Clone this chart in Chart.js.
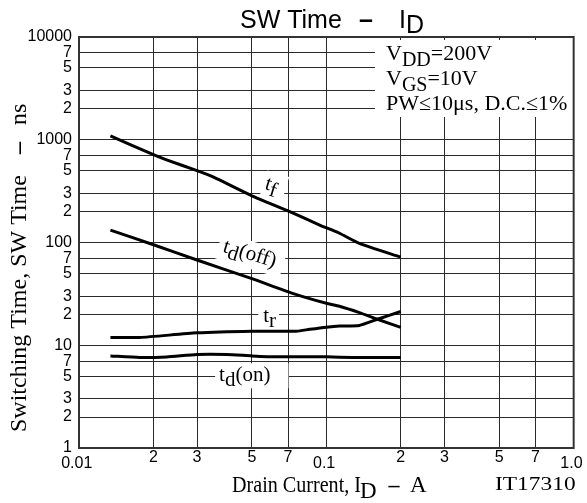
<!DOCTYPE html>
<html>
<head>
<meta charset="utf-8">
<script src="https://cdn.jsdelivr.net/npm/chart.js@4.4.1/dist/chart.umd.min.js"></script>
<style>
html,body{margin:0;padding:0;background:#ffffff;}
#box{position:relative;width:587px;height:503px;}
</style>
</head>
<body>
<div id="box"><canvas id="chart" width="587" height="503"></canvas></div>
<script>
// ---------------- data ----------------
const xTickValues = [0.01, 0.02, 0.03, 0.05, 0.07, 0.1, 0.2, 0.3, 0.5, 0.7, 1];
const xTickLabels = ['0.01', '2', '3', '5', '7', '0.1', '2', '3', '5', '7', '1.0'];
const yTickValues = [1, 2, 3, 5, 7, 10, 20, 30, 50, 70, 100, 200, 300, 500, 700, 1000, 2000, 3000, 5000, 7000, 10000];
const yTickLabels = ['1', '2', '3', '5', '7', '10', '2', '3', '5', '7', '100', '2', '3', '5', '7', '1000', '2', '3', '5', '7', '10000'];

// Drain current (A) and switching times (ns) for each curve
const tfCurrent   = [0.0134, 0.02, 0.0226, 0.03, 0.035, 0.05, 0.07, 0.094, 0.113, 0.136, 0.2];
const tfTime      = [1090, 715, 637, 500, 432, 285, 203, 148, 123, 98, 72];
const tdOffCurrent = [0.0134, 0.02, 0.03, 0.05, 0.073, 0.1, 0.113, 0.136, 0.161, 0.2];
const tdOffTime    = [132, 95, 67.5, 44.5, 32, 25.6, 24, 20.8, 17.9, 14.9];
const trCurrent   = [0.0134, 0.0176, 0.03, 0.05, 0.0757, 0.0857, 0.1, 0.113, 0.136, 0.161, 0.2];
const trTime      = [11.9, 11.9, 13.2, 13.7, 13.7, 14.3, 15.0, 15.4, 15.6, 17.9, 21.3];
const tdOnCurrent = [0.0134, 0.0176, 0.0226, 0.03, 0.0395, 0.05, 0.063, 0.1, 0.128, 0.2];
const tdOnTime    = [7.88, 7.6, 7.7, 8.13, 8.13, 7.88, 7.71, 7.71, 7.6, 7.6];

// --------------- styling helpers ---------------
const SERIF = '"Liberation Serif","Times New Roman",serif';
const SANS = '"Liberation Sans",Arial,sans-serif';

function isDecade(v) { const l = Math.log10(v); return Math.abs(l - Math.round(l)) < 1e-6; }
function toPoints(xs, ys) { return xs.map((x, i) => ({ x: x, y: ys[i] })); }

function piecesWidth(ctx, pieces) {
  let w = 0;
  for (const p of pieces) { ctx.font = p.font; w += ctx.measureText(p.t).width + (p.gap || 0); }
  return w;
}
function drawPieces(ctx, pieces, x, y) {
  let cx = x;
  for (const p of pieces) {
    ctx.font = p.font;
    const w = ctx.measureText(p.t).width;
    ctx.fillText(p.t, cx, y + (p.dy || 0));
    cx += w + (p.gap || 0);
  }
}

const LBL = '21px ' + SERIF;
const curveLabels = [
  { pieces: [{ t: 't', font: LBL }, { t: 'f', font: LBL, dy: 5 }], at: [0.0601, 360], rot: 17, pad: [2, 8, 13, 14] },
  { pieces: [{ t: 't', font: LBL }, { t: 'd', font: LBL, dy: 5 }, { t: '(off)', font: LBL }], at: [0.049, 77], rot: 17, pad: [5, 8, 13, 14] },
  { pieces: [{ t: 't', font: LBL }, { t: 'r', font: LBL, dy: 5 }], at: [0.059, 19.2], rot: 0, pad: [5, 3, 12, 13] },
  { pieces: [{ t: 't', font: LBL }, { t: 'd', font: LBL, dy: 5 }, { t: '(on)', font: LBL }], at: [0.0468, 5.1], rot: 0, pad: [4, 18, 12, 13] }
];

const ANN = '22px ' + SERIF, ANNS = '20px ' + SERIF;
const annotationLines = [
  { pieces: [{ t: 'V', font: ANN }, { t: 'DD', font: ANNS, dy: 6 }, { t: '=200V', font: ANN }], y: 60 },
  { pieces: [{ t: 'V', font: ANN }, { t: 'GS', font: ANNS, dy: 6 }, { t: '=10V', font: ANN }], y: 85 },
  { pieces: [{ t: 'PW\u226410\u03bcs, D.C.\u22641%', font: ANN }], y: 110 }
];

const decorPlugin = {
  id: 'decor',
  beforeDatasetsDraw(chart) {
    const ctx = chart.ctx, xs = chart.scales.x, ys = chart.scales.y, ca = chart.chartArea;
    ctx.save();
    ctx.fillStyle = '#ffffff';
    ctx.textBaseline = 'middle';
    for (const L of curveLabels) {
      const px = xs.getPixelForValue(L.at[0]), py = ys.getPixelForValue(L.at[1]);
      const w = piecesWidth(ctx, L.pieces);
      ctx.save();
      ctx.translate(px, py);
      ctx.rotate(L.rot * Math.PI / 180);
      ctx.fillRect(-w / 2 - L.pad[0], -L.pad[2], w + L.pad[0] + L.pad[1], L.pad[2] + L.pad[3]);
      ctx.restore();
    }
    ctx.fillRect(375, ca.top + 3, ca.right - 375, 117 - ca.top - 3);
    ctx.restore();
  },
  afterDatasetsDraw(chart) {
    const ctx = chart.ctx, xs = chart.scales.x, ys = chart.scales.y, ca = chart.chartArea;
    ctx.save();
    ctx.strokeStyle = '#333333';
    ctx.lineWidth = 2;
    ctx.strokeRect(ca.left, ca.top, ca.right - ca.left, ca.bottom - ca.top);
    ctx.fillStyle = '#000000';
    ctx.textBaseline = 'middle';
    ctx.textAlign = 'left';
    for (const L of curveLabels) {
      const px = xs.getPixelForValue(L.at[0]), py = ys.getPixelForValue(L.at[1]);
      const w = piecesWidth(ctx, L.pieces);
      ctx.save();
      ctx.translate(px, py);
      ctx.rotate(L.rot * Math.PI / 180);
      drawPieces(ctx, L.pieces, -w / 2, 0);
      ctx.restore();
    }
    ctx.textBaseline = 'alphabetic';
    for (const A of annotationLines) drawPieces(ctx, A.pieces, 386, A.y);
    ctx.restore();
  },
  afterDraw(chart) {
    const ctx = chart.ctx;
    ctx.save();
    ctx.fillStyle = '#000000';
    ctx.textBaseline = 'alphabetic';
    ctx.textAlign = 'left';
    // chart title
    ctx.font = '25px ' + SANS;
    ctx.fillText('SW Time', 240, 28);
    ctx.font = 'bold 25px ' + SANS;
    ctx.textAlign = 'center';
    ctx.fillText('\u2013', 366, 28);
    ctx.textAlign = 'left';
    ctx.font = '25px ' + SANS;
    ctx.fillText('I', 399, 28);
    ctx.fillText('D', 406, 33);
    // x axis title
    ctx.font = '23px ' + SERIF;
    ctx.fillText('Drain Current, I', 232, 492, 129);
    ctx.fillText('D', 360, 498);
    ctx.font = 'bold 22px ' + SERIF;
    ctx.textAlign = 'center';
    ctx.fillText('\u2013', 394, 492);
    ctx.textAlign = 'left';
    ctx.font = '23px ' + SERIF;
    ctx.fillText('A', 410, 492);
    // figure id
    ctx.save();
    ctx.translate(495, 490);
    ctx.scale(1.3, 1);
    ctx.font = '18px ' + SERIF;
    ctx.fillText('IT17310', 0, 0);
    ctx.restore();
    // y axis title (rotated)
    ctx.save();
    ctx.translate(26, 432);
    ctx.rotate(-Math.PI / 2);
    ctx.font = '24px ' + SERIF;
    ctx.fillText('Switching Time, SW Time', 0, 0);
    ctx.restore();
    ctx.save();
    ctx.translate(26, 148);
    ctx.rotate(-Math.PI / 2);
    ctx.font = 'bold 24px ' + SERIF;
    ctx.textAlign = 'center';
    ctx.fillText('\u2013', 0, 0);
    ctx.restore();
    ctx.save();
    ctx.translate(26, 125);
    ctx.rotate(-Math.PI / 2);
    ctx.font = '24px ' + SERIF;
    ctx.fillText('ns', 0, 0);
    ctx.restore();
    ctx.restore();
  }
};

const lineStyle = { borderColor: '#000000', borderWidth: 3, pointRadius: 0, tension: 0.2, fill: false, borderJoinStyle: 'round', borderCapStyle: 'butt' };

new Chart(document.getElementById('chart'), {
  type: 'line',
  data: {
    datasets: [
      Object.assign({ label: 'tf', data: toPoints(tfCurrent, tfTime) }, lineStyle),
      Object.assign({ label: 'td(off)', data: toPoints(tdOffCurrent, tdOffTime) }, lineStyle),
      Object.assign({ label: 'tr', data: toPoints(trCurrent, trTime) }, lineStyle),
      Object.assign({ label: 'td(on)', data: toPoints(tdOnCurrent, tdOnTime) }, lineStyle)
    ]
  },
  options: {
    responsive: false,
    animation: false,
    devicePixelRatio: 1,
    layout: { padding: { top: 37, right: 13, left: 0, bottom: 0 } },
    plugins: { legend: { display: false }, tooltip: { enabled: false }, title: { display: false } },
    scales: {
      x: {
        type: 'logarithmic', position: 'bottom', min: 0.01, max: 1,
        afterBuildTicks: s => { s.ticks = xTickValues.map(v => ({ value: v })); },
        afterFit: s => { s.height = 55; },
        grid: { color: '#2a2a2a', lineWidth: 1, drawTicks: false },
        border: { display: false },
        ticks: {
          autoSkip: false, maxRotation: 0, minRotation: 0, padding: 0, color: '#000000',
          font: c => ({ family: SANS, size: 16, lineHeight: (c.tick && isDecade(c.tick.value)) ? 0.667 : 1.2 }),
          callback: (v, i) => isDecade(v) ? ['', xTickLabels[i] + ' '] : xTickLabels[i]
        }
      },
      y: {
        type: 'logarithmic', position: 'left', min: 1, max: 10000,
        afterBuildTicks: s => { s.ticks = yTickValues.map(v => ({ value: v })); },
        afterFit: s => { s.width = 79; },
        grid: { color: '#2a2a2a', lineWidth: 1, drawTicks: false },
        border: { display: false },
        ticks: {
          autoSkip: false, padding: 7, color: '#000000',
          font: { family: SANS, size: 16 },
          callback: (v, i) => yTickLabels[i]
        }
      }
    }
  },
  plugins: [decorPlugin]
});
</script>
</body>
</html>
